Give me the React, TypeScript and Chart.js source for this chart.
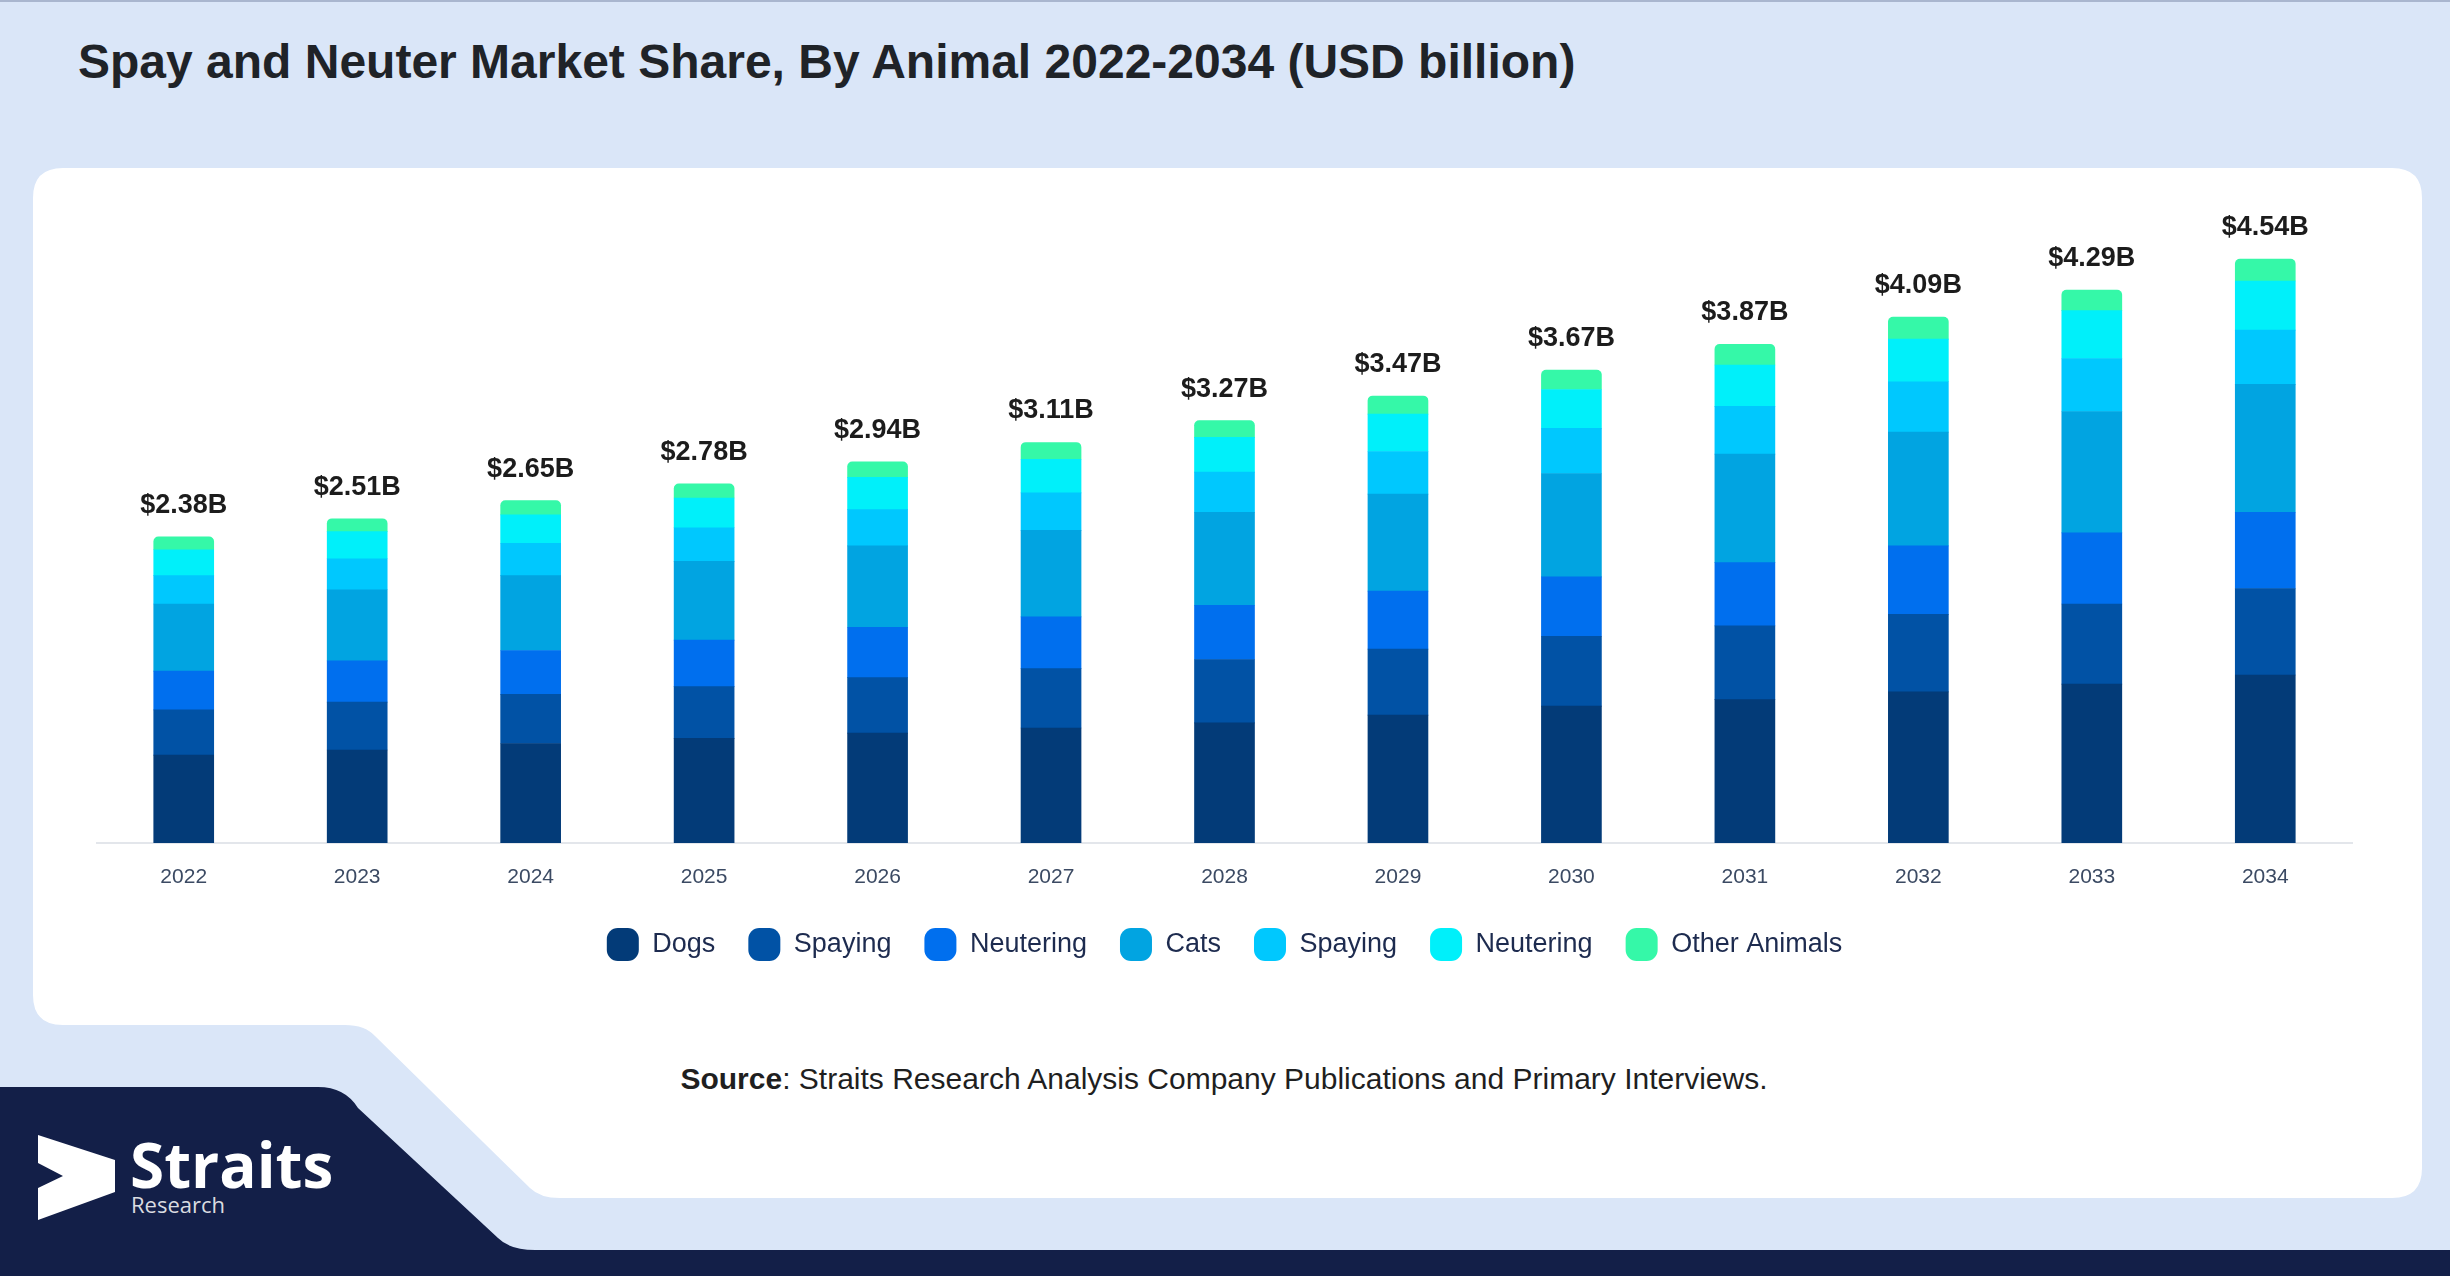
import React, { useEffect, useRef } from "react";
import { Chart, registerables } from "chart.js";

Chart.register(...registerables);

const years = ["2022", "2023", "2024", "2025", "2026", "2027", "2028", "2029", "2030", "2031", "2032", "2033", "2034"];
const dogs = [0.68, 0.72, 0.77, 0.81, 0.85, 0.89, 0.93, 0.99, 1.06, 1.11, 1.17, 1.23, 1.3];
const dogSpaying = [0.35, 0.37, 0.38, 0.4, 0.43, 0.46, 0.49, 0.51, 0.54, 0.57, 0.6, 0.62, 0.67];
const dogNeutering = [0.3, 0.32, 0.34, 0.36, 0.39, 0.4, 0.42, 0.45, 0.46, 0.49, 0.53, 0.55, 0.59];
const cats = [0.52, 0.55, 0.58, 0.61, 0.63, 0.67, 0.72, 0.75, 0.8, 0.84, 0.88, 0.94, 0.99];
const catSpaying = [0.22, 0.24, 0.25, 0.26, 0.28, 0.29, 0.31, 0.33, 0.35, 0.37, 0.39, 0.41, 0.42];
const catNeutering = [0.2, 0.21, 0.22, 0.23, 0.25, 0.26, 0.27, 0.29, 0.3, 0.32, 0.33, 0.37, 0.38];
const otherAnimals = [0.1, 0.1, 0.11, 0.11, 0.12, 0.13, 0.13, 0.14, 0.15, 0.16, 0.17, 0.16, 0.17];
const totals = [2.38, 2.51, 2.65, 2.78, 2.94, 3.11, 3.27, 3.47, 3.67, 3.87, 4.09, 4.29, 4.54];

const seriesNames = ["Dogs", "Spaying", "Neutering", "Cats", "Spaying", "Neutering", "Other Animals"];
const seriesValues = [dogs, dogSpaying, dogNeutering, cats, catSpaying, catNeutering, otherAnimals];
const seriesColors = ["#033b78", "#0152a5", "#006fee", "#01a4e1", "#00c8fe", "#00f0fa", "#35f8a8"];

const FONT = '"Liberation Sans", Arial, Helvetica, sans-serif';

export default function App() {
  const ref = useRef<HTMLCanvasElement>(null);

  useEffect(() => {
    const totalsPlugin = {
      id: "totalsLabels",
      afterDatasetsDraw(chart: any) {
        const ctx = chart.ctx;
        const last = chart.data.datasets.length - 1;
        const meta = chart.getDatasetMeta(last);
        ctx.save();
        ctx.font = `bold 27px ${FONT}`;
        ctx.fillStyle = "#1c1c1c";
        ctx.textAlign = "center";
        ctx.textBaseline = "alphabetic";
        meta.data.forEach((bar: any, i: number) => {
          ctx.fillText(`$${totals[i].toFixed(2)}B`, bar.x, bar.y - 24);
        });
        ctx.restore();
      },
    };

    const datasets = seriesNames.map((name, i) => ({
      label: name,
      data: seriesValues[i],
      backgroundColor: seriesColors[i],
      borderWidth: 0,
      barThickness: 60,
      borderRadius:
        i === seriesNames.length - 1
          ? { topLeft: 5, topRight: 5, bottomLeft: 0, bottomRight: 0 }
          : 0,
      borderSkipped: "start",
    }));

    const chart = new Chart(ref.current as HTMLCanvasElement, {
      type: "bar",
      data: { labels: years, datasets: datasets as any },
      options: {
        responsive: false,
        animation: false,
        maintainAspectRatio: false,
        layout: { padding: { top: 47, left: 97, right: 98, bottom: 0 } },
        scales: {
          x: {
            stacked: true,
            grid: { display: false },
            border: { display: true, color: "#e3e6eb", width: 2 },
            ticks: {
              color: "#3b4a63",
              padding: 14,
              font: { family: FONT, size: 21 },
            },
            afterFit: (scale: any) => {
              scale.height = 52;
            },
          },
          y: {
            stacked: true,
            display: false,
            min: 0,
            max: 5,
          },
        },
        plugins: {
          legend: {
            position: "bottom",
            labels: {
              boxWidth: 32,
              boxHeight: 33,
              useBorderRadius: true,
              borderRadius: 11,
              padding: 33,
              color: "#1d2b4f",
              font: { family: FONT, size: 27 },
            },
          },
          tooltip: { enabled: false },
          title: { display: false },
        },
      } as any,
      plugins: [totalsPlugin],
    });
    return () => chart.destroy();
  }, []);

  return (
    <div
      style={{
        position: "fixed",
        left: 0,
        top: 0,
        width: 2450,
        height: 1276,
        overflow: "hidden",
        background: "#dae6f8",
      }}
    >
      <svg width={2450} height={1276} style={{ position: "absolute", left: 0, top: 0 }}>
        <rect x={0} y={0} width={2450} height={1276} fill="#dae6f8" />
        <rect x={0} y={0} width={2450} height={2} fill="#a9b6cf" />
        <path
          d="M63,168 H2392 Q2422,168 2422,198 V1168 Q2422,1198 2392,1198 H560 Q540,1198 530,1188 L375,1036 Q365,1025 345,1025 H63 Q33,1025 33,995 V198 Q33,168 63,168 Z"
          fill="#ffffff"
        />
        <path
          d="M0,1087 H318 Q345,1087 358,1108 L498,1238 Q510,1250 535,1250 H2450 V1276 H0 Z"
          fill="#131f48"
        />
        <polygon
          points="38,1135 115,1160 115,1192 38,1220 38,1188 63,1176 38,1163"
          fill="#ffffff"
        />
        <text
          x={130}
          y={1188}
          fill="#ffffff"
          style={{ font: `bold 62px "Open Sans", ${FONT}` }}
        >
          Straits
        </text>
        <text
          x={131}
          y={1213}
          fill="#ffffff"
          fillOpacity={0.85}
          style={{ font: `22px "Open Sans", ${FONT}` }}
        >
          Research
        </text>
        <text
          x={78}
          y={78}
          fill="#1f2328"
          style={{ font: `bold 48px ${FONT}` }}
        >
          Spay and Neuter Market Share, By Animal 2022-2034 (USD billion)
        </text>
        <text
          x={1224}
          y={1089}
          textAnchor="middle"
          fill="#1f1f1f"
          style={{ font: `30px ${FONT}` }}
        >
          <tspan fontWeight="bold">Source</tspan>: Straits Research Analysis Company Publications and Primary Interviews.
        </text>
      </svg>
      <canvas
        ref={ref}
        width={2450}
        height={821}
        style={{ position: "absolute", left: 0, top: 150, width: 2450, height: 821 }}
      />
    </div>
  );
}
